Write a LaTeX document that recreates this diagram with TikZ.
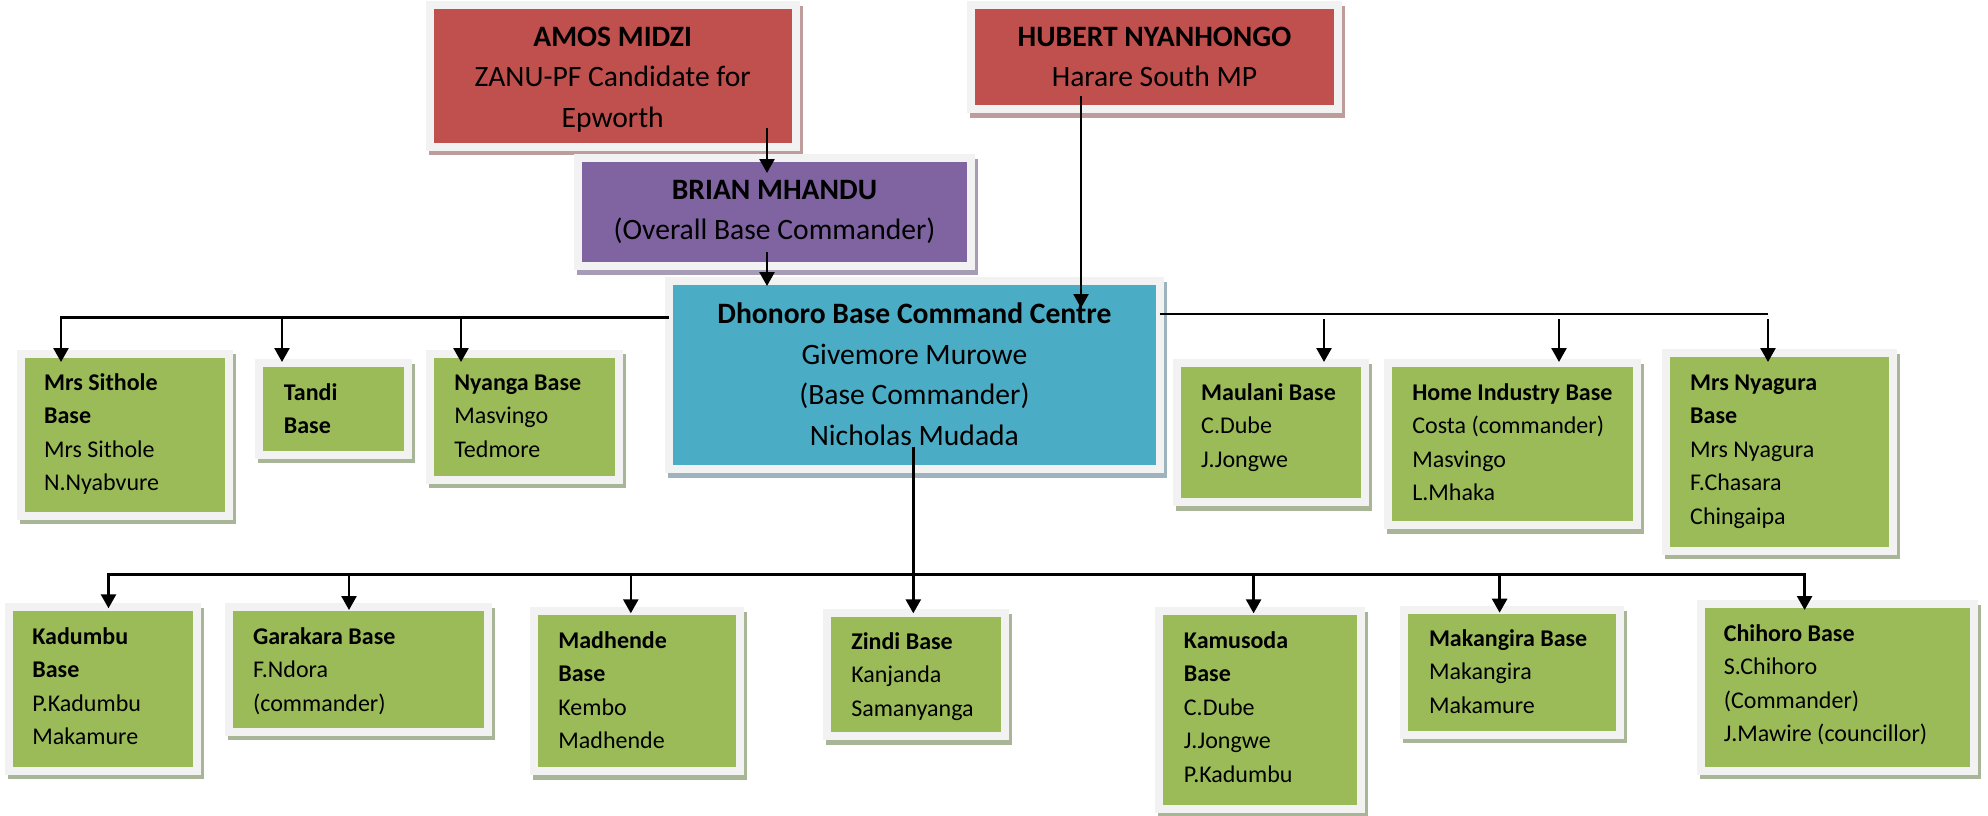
\documentclass[tikz,border=0pt]{standalone}
\usepackage{fontspec}
\setmainfont{Carlito}
\usetikzlibrary{arrows.meta}
\definecolor{cRed}{HTML}{C0504D}
\definecolor{cPurple}{HTML}{8064A2}
\definecolor{cCyan}{HTML}{4BACC6}
\definecolor{cGreen}{HTML}{9BBB59}
\definecolor{frameC}{HTML}{F2F2F2}
\definecolor{shRed}{HTML}{BE9C9C}
\definecolor{shPurple}{HTML}{A69CB5}
\definecolor{shCyan}{HTML}{9DB3BD}
\definecolor{shGreen}{HTML}{A9B597}
\newcommand\Lft[1]{\vtop{\baselineskip=16.75pt\lineskiplimit=-20pt\halign{##\hfil\cr#1\crcr}}}
\newcommand\Ctr[1]{\vtop{\baselineskip=20.4pt\lineskiplimit=-20pt\halign{\hfil##\hfil\cr#1\crcr}}}
\newcommand\mkbox[7]{%
  \fill[#3] ({#4-5},{#5-3.5}) rectangle ({#6+11},{#7+12.5});
  \fill[frameC] ({#4-8},{#5-8}) rectangle ({#6+8},{#7+8});
  \node[boxnode, fill=#2, minimum width={(#6-#4)*0.5pt}, minimum height={(#7-#5)*0.5pt}] (#1) at ({(#4+#6)/2},{(#5+#7)/2}) {};
}
\tikzset{
  boxnode/.style={rectangle, draw=none, inner sep=0pt, outer sep=0pt},
  gtxt/.style={font=\fontsize{12pt}{14pt}\selectfont, inner sep=0pt, anchor=base west, text=black},
  ttxt/.style={font=\fontsize{14.8pt}{17pt}\selectfont, inner sep=0pt, anchor=base, text=black},
  conn/.style={line width=1.3pt, black},
  arr/.style={conn, -{Triangle[width=7.5pt,length=7pt]}}
}
\begin{document}
\begin{tikzpicture}[x=0.5pt,y=-0.5pt]
\fill[white] (0,0) rectangle (1988,815);
\useasboundingbox (0,0) rectangle (1988,815);

% top boxes
\mkbox{amos}{cRed}{shRed}{434}{9}{791.5}{142.7}
\mkbox{hubert}{cRed}{shRed}{975}{9}{1334}{105}
\mkbox{brian}{cPurple}{shPurple}{582}{162}{967}{262}
\mkbox{centre}{cCyan}{shCyan}{673}{285}{1155.7}{465}

% first row
\mkbox{sith}{cGreen}{shGreen}{24.5}{357.7}{224.5}{511.7}
\mkbox{tandi}{cGreen}{shGreen}{263}{367}{404}{450.7}
\mkbox{nyanga}{cGreen}{shGreen}{434}{357.7}{615}{475.7}
\mkbox{maulani}{cGreen}{shGreen}{1181}{367.3}{1360.6}{498}
\mkbox{home}{cGreen}{shGreen}{1392}{367.3}{1632.6}{521}
\mkbox{nyagura}{cGreen}{shGreen}{1670}{357.3}{1888.6}{546.7}

% second row
\mkbox{kadumbu}{cGreen}{shGreen}{12.5}{611}{192.9}{766.7}
\mkbox{garakara}{cGreen}{shGreen}{233}{611}{483.5}{727.7}
\mkbox{madhende}{cGreen}{shGreen}{538}{615}{735.7}{767.3}
\mkbox{zindi}{cGreen}{shGreen}{831.25}{617.3}{1001.3}{732.3}
\mkbox{kamusoda}{cGreen}{shGreen}{1163.4}{615}{1357}{804.5}
\mkbox{makangira}{cGreen}{shGreen}{1408.4}{614}{1616}{730.7}
\mkbox{chihoro}{cGreen}{shGreen}{1704.6}{608.3}{1970}{766.7}

% texts of top boxes
\node[ttxt] (amos-t) at (612.7,46) {\Ctr{\textbf{AMOS MIDZI}\cr ZANU-PF Candidate for\cr Epworth}};
\node[ttxt] (hubert-t) at (1154.5,46) {\Ctr{\textbf{HUBERT NYANHONGO}\cr Harare South MP}};
\node[ttxt] (brian-t) at (774.5,199) {\Ctr{\textbf{BRIAN MHANDU}\cr (Overall Base Commander)}};
\node[ttxt] (centre-t) at (914.4,323.3) {\Ctr{\textbf{Dhonoro Base Command Centre}\cr Givemore Murowe\cr (Base Commander)\cr Nicholas Mudada}};

% texts of first row
\node[gtxt] (sith-t) at (43.75,390) {\Lft{\textbf{Mrs Sithole}\cr \textbf{Base}\cr Mrs Sithole\cr N.Nyabvure}};
\node[gtxt] (tandi-t) at (283.5,400) {\Lft{\textbf{Tandi}\cr \textbf{Base}}};
\node[gtxt] (nyanga-t) at (454,390) {\Lft{\textbf{Nyanga Base}\cr Masvingo\cr Tedmore}};
\node[gtxt] (maulani-t) at (1200.8,400) {\Lft{\textbf{Maulani Base}\cr C.Dube\cr J.Jongwe}};
\node[gtxt] (home-t) at (1411.9,400) {\Lft{\textbf{Home Industry Base}\cr Costa (commander)\cr Masvingo\cr L.Mhaka}};
\node[gtxt] (nyagura-t) at (1689.8,390) {\Lft{\textbf{Mrs Nyagura}\cr \textbf{Base}\cr Mrs Nyagura\cr F.Chasara\cr Chingaipa}};

% texts of second row
\node[gtxt] (kadumbu-t) at (32,644) {\Lft{\textbf{Kadumbu}\cr \textbf{Base}\cr P.Kadumbu\cr Makamure}};
\node[gtxt] (garakara-t) at (252.7,644) {\Lft{\textbf{Garakara Base}\cr F.Ndora\cr (commander)}};
\node[gtxt] (madhende-t) at (558,648) {\Lft{\textbf{Madhende}\cr \textbf{Base}\cr Kembo\cr Madhende}};
\node[gtxt] (zindi-t) at (850.9,649) {\Lft{\textbf{Zindi Base}\cr Kanjanda\cr Samanyanga}};
\node[gtxt] (kamusoda-t) at (1183.5,648) {\Lft{\textbf{Kamusoda}\cr \textbf{Base}\cr C.Dube\cr J.Jongwe\cr P.Kadumbu}};
\node[gtxt] (makangira-t) at (1428.6,646) {\Lft{\textbf{Makangira Base}\cr Makangira\cr Makamure}};
\node[gtxt] (chihoro-t) at (1723.4,641) {\Lft{\textbf{Chihoro Base}\cr S.Chihoro\cr (Commander)\cr J.Mawire (councillor)}};

% connector coordinates
\coordinate (amosOut) at (767,128);
\coordinate (brianIn) at (767,173);
\coordinate (brianOut) at (767,252);
\coordinate (centreInA) at (767,286);
\coordinate (hubertOut) at (1081,96);
\coordinate (centreInB) at (1081,308);
\coordinate (busL) at (669,317.7);
\coordinate (busR) at (1159.6,314);
\coordinate (centreOut) at (913.3,446.7);
\coordinate (busB) at (913.3,574.3);

% connectors, top
\draw[arr] (amosOut) -- (brianIn);
\draw[arr] (brianOut) -- (centreInA);
\draw[arr] (hubertOut) -- (centreInB);

% left bus
\draw[arr] (busL) -- (61,317.7) -- (61,362);
\draw[arr] (282,317.7) -- (282,362);
\draw[arr] (461,317.7) -- (461,362);

% right bus
\draw[conn] (busR) -- (1767.5,314);
\draw[arr] (1324,319) -- (1324,362);
\draw[arr] (1559,319) -- (1559,362);
\draw[arr] (1768,319) -- (1768,362);

% bottom bus
\draw[arr] (centreOut) -- (913.3,613.3);
\draw[arr] (busB) -- (108.5,574.3) -- (108.5,608.3);
\draw[arr] (busB) -- (1804.6,574.3) -- (1804.6,610);
\draw[arr] (349,574.3) -- (349,610);
\draw[arr] (630.8,574.3) -- (630.8,613.3);
\draw[arr] (1253.6,574.3) -- (1253.6,613.3);
\draw[arr] (1499.6,574.3) -- (1499.6,612.7);
\end{tikzpicture}
\end{document}
